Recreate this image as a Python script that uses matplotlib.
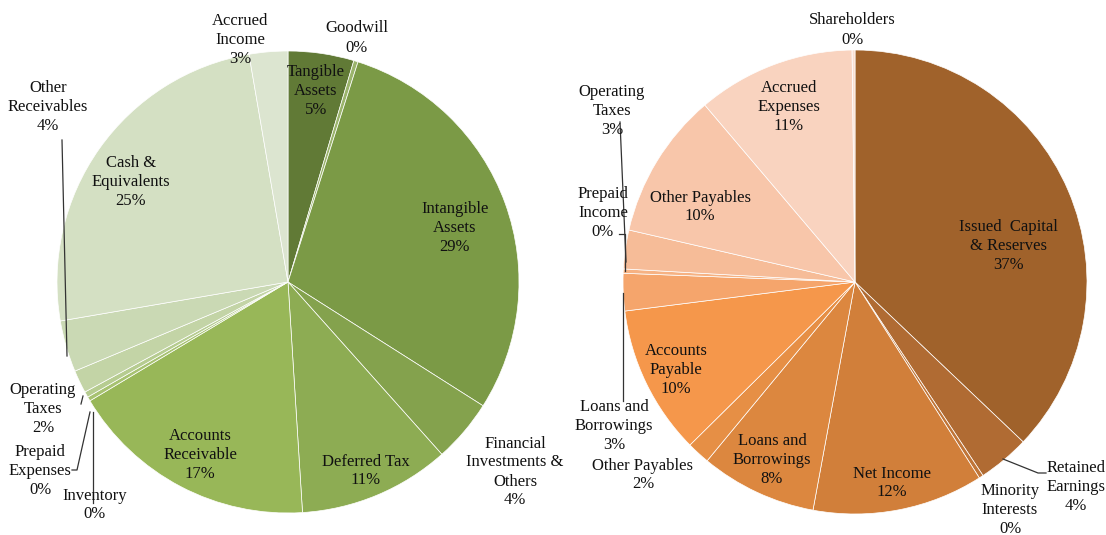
import matplotlib
matplotlib.use('Agg')
import matplotlib.pyplot as plt

# Assets side (clockwise from 12 o'clock), share of total in percent
asset_names = ["Tangible\nAssets", "Goodwill", "Intangible\nAssets",
               "Financial\nInvestments &\nOthers", "Deferred Tax",
               "Accounts\nReceivable", "Inventory", "Prepaid\nExpenses",
               "Operating\nTaxes", "Other\nReceivables", "Cash &\nEquivalents",
               "Accrued\nIncome"]
asset_values = [4.6, 0.3, 29.1, 4.4, 10.6, 17.4, 0.3, 0.4, 1.6, 3.6, 25.0, 2.7]
asset_colors = ["#617a36", "#9bb46c", "#7b9a46", "#84a24d", "#8dac53",
                "#98b758", "#a7c271", "#b6cc90", "#c3d4a6", "#cad9b4",
                "#d4e0c3", "#dce5d0"]

# Liabilities side
liab_names = ["Issued  Capital\n& Reserves", "Retained\nEarnings",
              "Minority\nInterests", "Net Income", "Loans and\nBorrowings",
              "Other Payables", "Accounts\nPayable", "Loans and\nBorrowings",
              "Prepaid\nIncome", "Operating\nTaxes", "Other Payables",
              "Accrued\nExpenses", "Shareholders"]
liab_values = [37.1, 3.6, 0.3, 11.9, 8.1, 1.6, 10.4, 2.6, 0.3, 2.7, 10.2,
               11.0, 0.2]
liab_colors = ["#a0622b", "#b06b33", "#c07538", "#d17f3a", "#dc873f",
               "#e68f45", "#f5974b", "#f5a56c", "#f6b283", "#f6bc98",
               "#f8c6aa", "#f9d3bf", "#fadfd2"]

# label anchor points in pixel space (x, y from top)
asset_label_xy = [(316, 91), (357, 38), (455, 228), (515, 472), (366, 471),
                  (200, 455), (95, 505), (40, 471), (43, 409), (48, 107),
                  (131, 182), (240, 40)]
liab_label_xy = [(1008, 246), (1076, 487), (1010, 510), (892, 483),
                 (772, 460), (643, 475), (676, 370), (614, 426), (603, 213),
                 (612, 111), (700, 207), (789, 107), (852, 30)]

W, H = 1106, 535
fig = plt.figure(figsize=(W / 100, H / 100), dpi=100)
ax = fig.add_axes([0, 0, 1, 1])

wp = dict(edgecolor='white', linewidth=0.5)
ax.pie(asset_values, colors=asset_colors, startangle=90, counterclock=False,
       center=(288, H - 282), radius=231, wedgeprops=wp, frame=True)
ax.pie(liab_values, colors=liab_colors, startangle=90, counterclock=False,
       center=(855, H - 282), radius=232, wedgeprops=wp, frame=True)
ax.set_xlim(0, W)
ax.set_ylim(0, H)
ax.set_aspect('equal')
ax.axis('off')

font = dict(family='Liberation Serif', fontsize=12, color='#111111',
            ha='center', va='center', linespacing=1.25)


def put_labels(names, values, positions):
    for name, val, (x, y) in zip(names, values, positions):
        ax.text(x, H - y, "%s\n%d%%" % (name, round(val)), **font)


put_labels(asset_names, asset_values, asset_label_xy)
put_labels(liab_names, liab_values, liab_label_xy)

# leader lines for the thin slices
leaders = [
    [(62, 140), (67, 356)],                 # other receivables
    [(81, 404), (83, 396)],                 # operating taxes (assets)
    [(72, 470), (77, 470), (90, 412)],      # prepaid expenses
    [(92.5, 412), (92.5, 503)],             # inventory
    [(620, 122), (626, 262)],               # operating taxes (liabilities)
    [(619, 234), (625, 234), (625, 271)],   # prepaid income
    [(623, 293), (623, 401)],               # loans and borrowings 3%
    [(1003, 459), (1038, 473), (1046, 473)],  # retained earnings
]
for pts in leaders:
    xs = [p[0] for p in pts]
    ys = [H - p[1] for p in pts]
    ax.plot(xs, ys, color='#333333', linewidth=0.9)

fig.savefig("out.png", dpi=100)
plt.close(fig)
